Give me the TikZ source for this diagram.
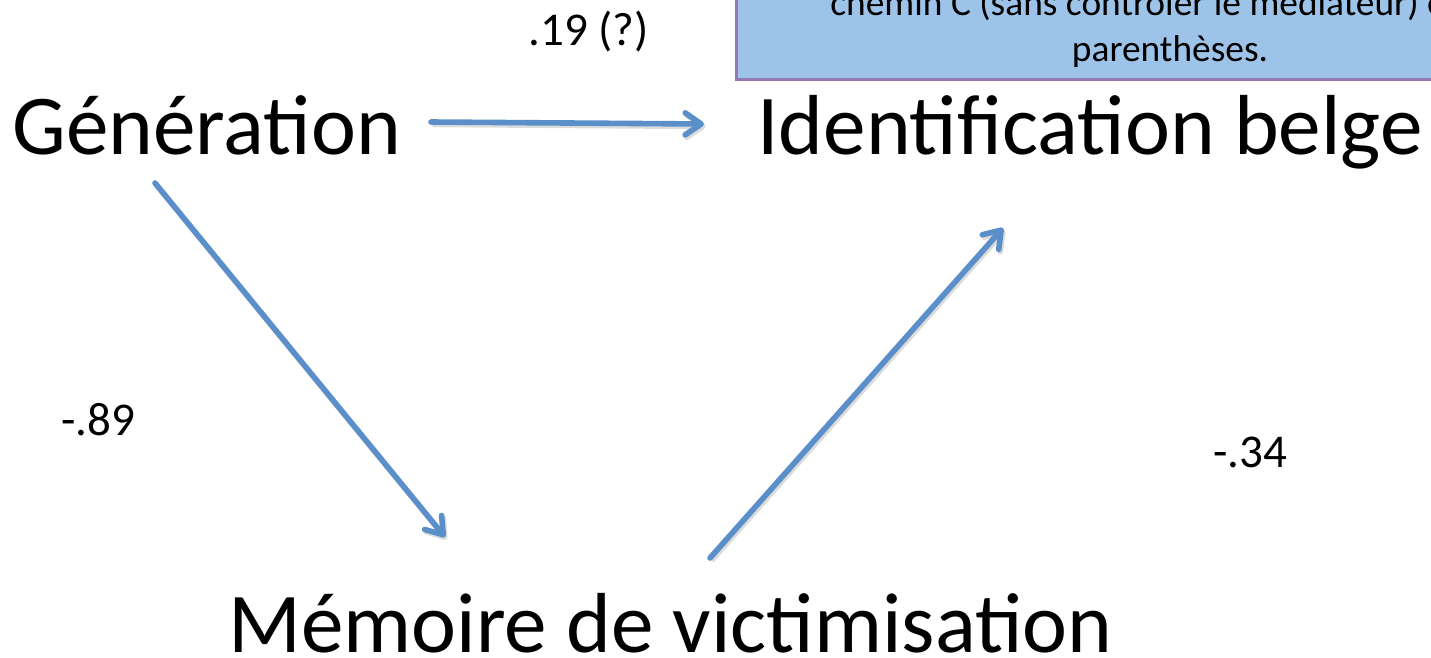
\documentclass[tikz,border=0pt]{standalone}
\usepackage{fontspec}
\setmainfont{Carlito}
\usetikzlibrary{arrows.meta}
\definecolor{arrowblue}{RGB}{91,143,201}
\definecolor{notefill}{RGB}{158,195,232}
\definecolor{noteline}{RGB}{148,122,178}
\begin{document}
\begin{tikzpicture}[x=0.5pt,y=-0.5pt,
		link/.style={draw=arrowblue,line width=2.8pt,line cap=round,-{Straight Barb[length=8pt,width=11pt,round]},
			preaction={draw=black!40,opacity=0.35,line width=2.8pt,transform canvas={shift={(0.8pt,-1.2pt)}}}},
		var/.style={anchor=base west,inner sep=0pt,font=\fontsize{42.6}{50}\selectfont},
		coef/.style={anchor=base west,inner sep=0pt,font=\fontsize{23.5}{28}\selectfont},
		note/.style={inner sep=0pt,font=\fontsize{18.7}{23}\selectfont}]
		\useasboundingbox (0,0) rectangle (1431,658);
		\clip (0,0) rectangle (1431,658);
		% note box (cut by the frame)
		\draw[fill=notefill,draw=noteline,line width=1.5pt] (736,-40) rectangle (1700,80);
		\node[note,anchor=base west] (note1) at (830,16) {chemin C (sans contrôler le médiateur) entre};
		\node[note,anchor=base] (note2) at (1170,62) {parenthèses.};
		% variables
		\node[var] (gen) at (12,155) {Génération};
		\node[var] (ident) at (757,155) {Identification belge};
		\node[var] (memo) at (228,652) {Mémoire de victimisation};
		% coefficients
		\node[coef] (c) at (528,46) {.19 (?)};
		\node[coef] (a) at (61,435) {-.89};
		\node[coef] (b) at (1213,467) {-.34};
		% arrow ends
		\coordinate (gen-r) at (431,122);
		\coordinate (ident-l) at (704,124);
		\coordinate (gen-b) at (155,183);
		\coordinate (memo-l) at (445,537);
		\coordinate (memo-r) at (710,558);
		\coordinate (ident-b) at (1003,228);
		\draw[link] (gen-r) -- (ident-l);
		\draw[link] (gen-b) -- (memo-l);
		\draw[link] (memo-r) -- (ident-b);
\end{tikzpicture}
\end{document}
